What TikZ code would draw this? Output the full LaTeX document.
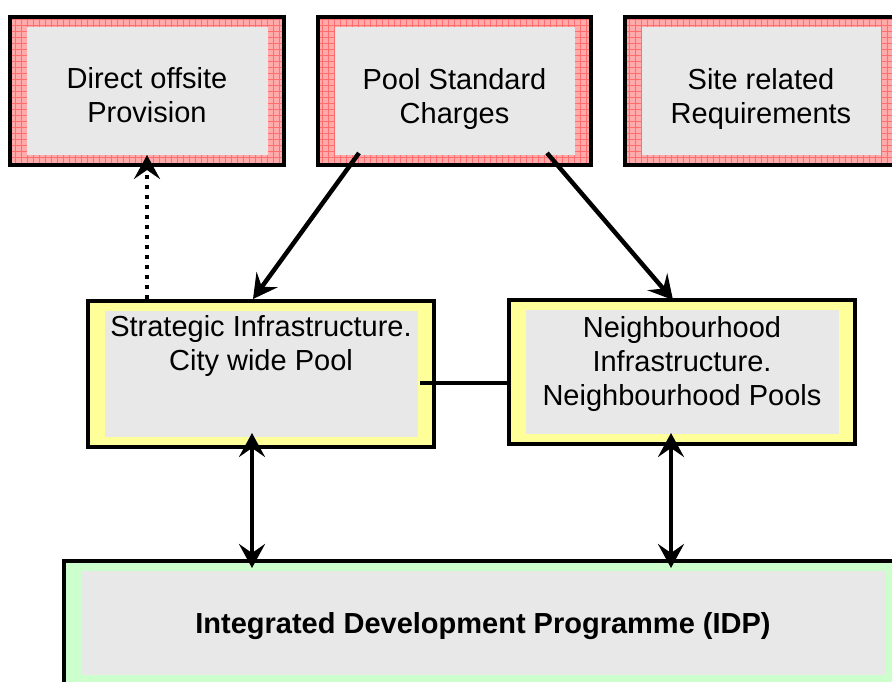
\documentclass[tikz,border=0pt]{standalone}
\usepackage{fontspec}
\setmainfont{Liberation Sans}
\usetikzlibrary{arrows.meta,calc}

\definecolor{boxgrey}{HTML}{E8E8E8}
\definecolor{chargered}{HTML}{FFABAB}
\definecolor{gridred}{HTML}{FF6E6E}
\definecolor{poolyellow}{HTML}{FFFF99}
\definecolor{idpgreen}{HTML}{CCFFCC}

\tikzset{
    greyinset/.code={\fill[boxgrey] ([xshift=16.5pt,yshift=10pt]path picture bounding box.south west)
        rectangle ([xshift=-16.5pt,yshift=-10pt]path picture bounding box.north east);},
    chargebox/.style={draw, line width=4pt, fill=chargered, inner sep=0pt, minimum height=148pt,
        path picture={\draw[gridred, line width=0.8pt, step=6pt] (path picture bounding box.south west)
            grid (path picture bounding box.north east); \tikzset{greyinset}}},
    poolbox/.style={draw, line width=4pt, fill=poolyellow, inner sep=0pt, minimum width=346pt,
        path picture={\tikzset{greyinset}}},
    idpbox/.style={draw, line width=4pt, fill=idpgreen, inner sep=0pt,
        path picture={\tikzset{greyinset}}},
    boxtext/.style={align=center, inner sep=0pt, font=\fontsize{29}{34}\selectfont},
    flow/.style={line width=4.5pt, -{Stealth[length=24pt,width=26pt,inset=9pt]}},
    twoway/.style={line width=4.5pt, {Stealth[length=24pt,width=26pt,inset=9pt]}-{Stealth[length=24pt,width=26pt,inset=9pt]}},
}

\begin{document}
\begin{tikzpicture}[x=1pt, y=-1pt]
    \useasboundingbox (0,0) rectangle (892,681);
    \clip (0,0) rectangle (892,681);

    \node[chargebox, minimum width=274pt, label={[boxtext, name=dop-text, yshift=-4.5pt]center:{Direct offsite\\Provision}}] (dop) at (147,91) {};
    \node[chargebox, minimum width=273pt, label={[boxtext, name=psc-text, yshift=-7.5pt]center:{Pool Standard\\Charges}}] (psc) at (454.5,91) {};
    \node[chargebox, minimum width=272pt, label={[boxtext, name=site-text, yshift=-7.5pt]center:{Site related\\Requirements}}] (site) at (761,91) {};

    \node[poolbox, minimum height=146pt, label={[boxtext, name=city-text, yshift=28.5pt]center:{Strategic Infrastructure.\\City wide Pool}}] (city) at (261,374) {};
    \node[poolbox, minimum height=144pt, label={[boxtext, name=nbh-text, yshift=8.5pt]center:{Neighbourhood\\Infrastructure.\\Neighbourhood Pools}}] (nbh) at (682,372) {};

    \node[idpbox, minimum width=838pt, minimum height=124pt, label={[boxtext, name=idp-text, yshift=-3pt]center:{\textbf{Integrated Development Programme (IDP)}}}] (idp) at (483,623) {};

    \draw[flow, dash pattern=on 4.5pt off 5.5pt] (dop.south |- city.north) -- ($(dop.south)+(0,-12)$);
    \draw[flow] ($(psc.south)+(-95.5,-14)$) -- ($(city.north)+(-8,0)$);
    \draw[flow] ($(psc.south)+(92.5,-14)$) -- ($(nbh.north)+(-9,2)$);

    \coordinate (link) at ($(city.east)+(-16,9)$);
    \draw[line width=4.5pt] (link) -- (link -| nbh.west);

    \draw[twoway] ($(city.south)+(-9,-16)$) -- ($(city.south |- idp.north)+(-9,9)$);
    \draw[twoway] ($(nbh.south)+(-11,-13)$) -- ($(nbh.south |- idp.north)+(-11,9)$);
\end{tikzpicture}
\end{document}
